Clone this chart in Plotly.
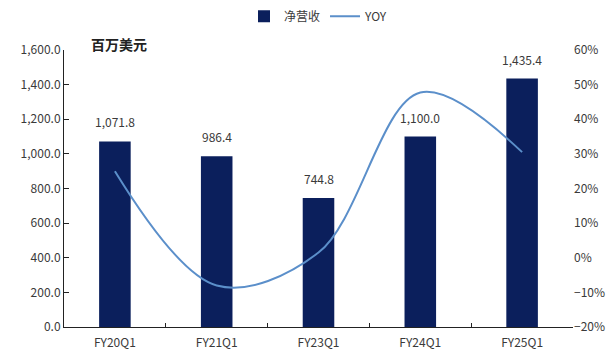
import plotly.graph_objects as go

categories = ["FY20Q1", "FY21Q1", "FY23Q1", "FY24Q1", "FY25Q1"]
revenue = [1071.8, 986.4, 744.8, 1100.0, 1435.4]
yoy = [0.250, -0.080, 0.015, 0.477, 0.305]

bar_color = "#0b1f5c"
line_color = "#5b8fca"
txt = "#3a3a3a"
font_family = "Noto Sans CJK SC, Noto Sans, sans-serif"

fig = go.Figure()
fig.add_trace(go.Bar(
    x=categories, y=revenue, name="净营收",
    marker=dict(color=bar_color, line=dict(width=0)),
))
fig.add_trace(go.Scatter(
    x=categories, y=yoy, name="YOY", yaxis="y2",
    mode="lines", line=dict(color=line_color, width=2, shape="spline", smoothing=1.0),
))

labels = [dict(x=c, y=v, xref="x", yref="y", text=f"{v:,.1f}", showarrow=False,
               yanchor="bottom", yshift=9, font=dict(size=12, color=txt, family=font_family))
          for c, v in zip(categories, revenue)]

fig.update_layout(
    width=609, height=354,
    margin=dict(l=64, r=36, t=50, b=27),
    paper_bgcolor="white", plot_bgcolor="white",
    font=dict(family=font_family, size=12, color=txt),
    bargap=0.69,
    showlegend=True,
    legend=dict(orientation="h", x=0.5, xanchor="center", y=0.995, yanchor="top",
                yref="container", font=dict(size=12, color=txt),
                itemwidth=30, tracegroupgap=0, bgcolor="rgba(0,0,0,0)"),
    xaxis=dict(
        type="category", showline=True, linecolor="#222", linewidth=1,
        ticks="inside", ticklen=4, tickcolor="#222", tickson="boundaries",
        showgrid=False, tickfont=dict(size=12, color=txt), ticklabelstandoff=5,
        automargin=False,
    ),
    yaxis=dict(
        range=[0, 1600], dtick=200, tickformat=",.1f",
        showline=True, linecolor="#222", linewidth=1,
        ticks="inside", ticklen=5, tickcolor="#222",
        showgrid=False, zeroline=False, tickfont=dict(size=12, color=txt),
        automargin=False,
    ),
    yaxis2=dict(
        range=[-0.2, 0.6], dtick=0.1, tickformat=".0%", overlaying="y", side="right",
        showline=False, ticks="", showgrid=False, zeroline=False,
        tickfont=dict(size=12, color=txt), ticklabelstandoff=0, automargin=False,
    ),
    annotations=labels + [dict(
        text="<b>百万美元</b>", xref="paper", yref="paper", x=0.05, y=1.02,
        xanchor="left", yanchor="middle", showarrow=False,
        font=dict(size=14, color="#222", family=font_family),
    )],
)

fig.write_html("out.html")
